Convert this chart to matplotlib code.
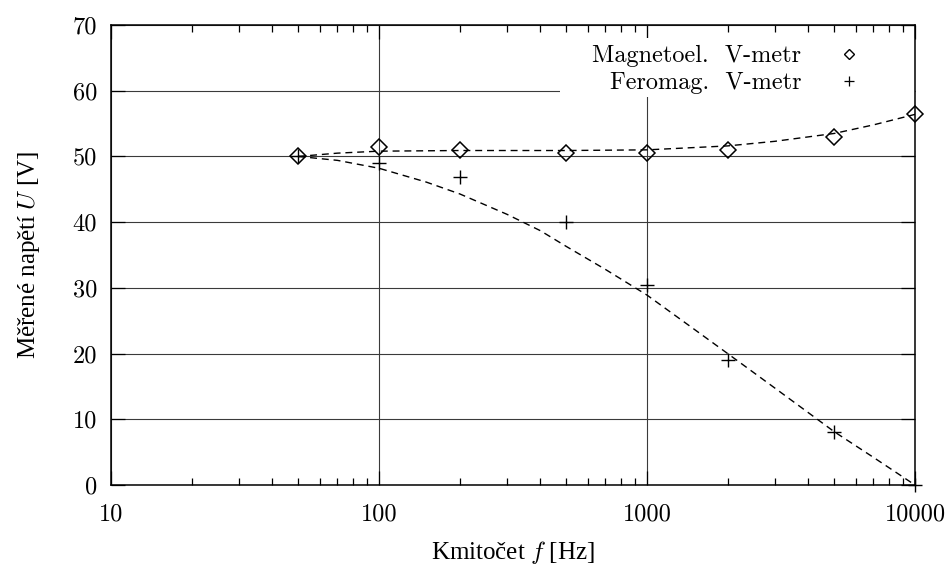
import matplotlib
matplotlib.use('Agg')
import matplotlib.pyplot as plt
from matplotlib.lines import Line2D
from matplotlib.patches import Rectangle
from matplotlib.ticker import LogLocator, NullFormatter, NullLocator

# ---- data ----
freq = [50, 100, 200, 500, 1000, 2000, 5000, 10000]
u_magnetoel = [50.0, 51.4, 51.0, 50.5, 50.5, 51.0, 53.0, 56.5]
u_feromag = [50.0, 49.0, 46.8, 40.0, 30.5, 19.0, 8.0, 0.0]

fit_freq_mag = [50, 70, 100, 200, 500, 1000, 2000, 3000, 5000, 7000, 10000]
fit_u_mag = [50.0, 50.5, 50.8, 50.9, 50.9, 51.0, 51.6, 52.3, 53.5, 54.8, 56.4]

fit_freq_fer = [50, 70, 100, 150, 200, 300, 400, 500, 700, 1000, 1500, 2000, 3000, 5000, 7000, 10000]
fit_u_fer = [50.0, 49.4, 48.2, 46.1, 44.3, 41.2, 38.7, 36.3, 32.8, 28.9, 23.7, 20.0, 14.75, 8.1, 4.2, 0.0]

xticks = [10, 100, 1000, 10000]
xtick_labels = ['10', '100', '1000', '10000']
yticks = [0, 10, 20, 30, 40, 50, 60, 70]
ytick_labels = ['0', '10', '20', '30', '40', '50', '60', '70']

label_mag = 'Magnetoel.  V-metr'
label_fer = 'Feromag.  V-metr'
xlabel = 'Kmitočet $f$ [Hz]'
ylabel = 'Měřené napětí $U$ [V]'

# ---- style ----
plt.rcParams['font.family'] = ['cmr10']
plt.rcParams['mathtext.fontset'] = 'cm'
plt.rcParams['axes.formatter.use_mathtext'] = True
FS = 17.5
LABEL_FONT = ['Liberation Serif', 'DejaVu Serif']

W, H = 952, 571
fig = plt.figure(figsize=(W / 100, H / 100), dpi=100)
L, R, T, B = 111, 915, 25, 485
ax = fig.add_axes([L / W, 1 - B / H, (R - L) / W, (B - T) / H])
ax.set_axisbelow(True)

ax.set_xscale('log')
ax.set_xlim(10, 10000)
ax.set_ylim(0, 70)

ax.set_xticks(xticks, labels=xtick_labels)
ax.xaxis.set_minor_locator(LogLocator(base=10, subs=range(2, 10), numticks=20))
ax.xaxis.set_minor_formatter(NullFormatter())
ax.set_yticks(yticks, labels=ytick_labels)
ax.yaxis.set_minor_locator(NullLocator())

ax.tick_params(axis='both', which='major', direction='in', length=10, width=0.9,
               top=True, right=True, labelsize=FS, color='black')
ax.tick_params(axis='x', which='major', pad=13)
ax.tick_params(axis='y', which='major', pad=10)
ax.tick_params(axis='x', which='minor', direction='in', length=5, width=0.9,
               top=True, bottom=True)

ax.grid(True, which='major', color='#3a3a3a', linewidth=0.8)
for s in ax.spines.values():
    s.set_linewidth(1.1)
    s.set_zorder(3)

# opaque key box
rx0 = (560 - L) / (R - L)
ry0 = (B - 97) / (B - T)
ry1 = (B - 38) / (B - T)
ax.add_patch(Rectangle((rx0, ry0), 1 - rx0, ry1 - ry0, transform=ax.transAxes,
                       facecolor='white', edgecolor='none', zorder=1))

dash = (0, (5, 3.5))
ax.plot(fit_freq_mag, fit_u_mag, color='black', lw=1.0, ls=dash, zorder=2)
ax.plot(fit_freq_fer, fit_u_fer, color='black', lw=1.0, ls=dash, zorder=2)

ax.plot(freq, u_magnetoel, ls='none', marker='D', ms=8, mfc='none', mec='black',
        mew=1.1, clip_on=False, zorder=4)
ax.plot(freq, u_feromag, ls='none', marker='+', ms=10, mec='black',
        mew=1.0, clip_on=False, zorder=4)

h_mag = Line2D([], [], ls='none', marker='D', ms=5, mfc='none', mec='black', mew=1.0)
h_fer = Line2D([], [], ls='none', marker='+', ms=7, mec='black', mew=0.9)
leg = ax.legend([h_mag, h_fer], [label_mag, label_fer], loc='upper right',
                bbox_to_anchor=((861 - L) / (R - L), (B - 45) / (B - T)),
                frameon=False, markerfirst=False, fontsize=FS,
                handlelength=1.0, handletextpad=1.45, borderpad=0,
                borderaxespad=0, labelspacing=0.2)

ax.set_xlabel(xlabel, fontsize=18, labelpad=10, family=LABEL_FONT)
ax.set_ylabel(ylabel, fontsize=18, labelpad=22, family=LABEL_FONT)

fig.savefig('out.png', dpi=100)
